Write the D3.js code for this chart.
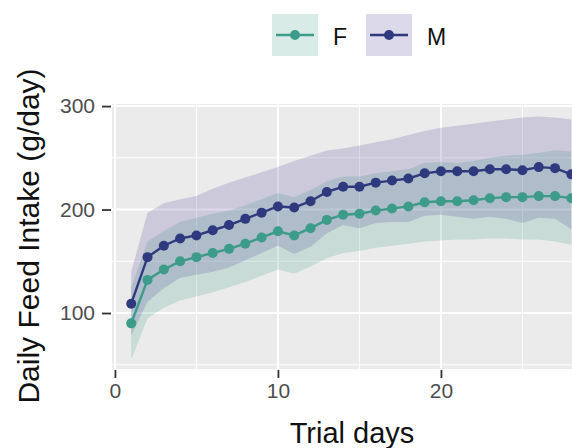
<!DOCTYPE html>
<html>
<head>
<meta charset="utf-8">
<script src="https://cdn.jsdelivr.net/npm/d3@7"></script>
<style>
  html, body { margin: 0; padding: 0; background: #fff; }
  svg { display: block; font-family: "Liberation Sans", Arial, sans-serif; }
</style>
</head>
<body>
<svg id="chart" width="572" height="448"></svg>
<script>
// Daily feed intake by sex over trial days (mean with ribbon)
const days = d3.range(1, 29);
const fMean = [90,132,142,150,154,158,162,167,173,179,175,182,190,195,196,199,201,203,207,208,208,209,211,212,212,213,213,211];
const fLow  = [55,95,105,112,116,120,125,130,136,142,138,145,153,158,160,163,165,167,169,170,171,171,172,172,171,171,169,166];
const fHigh = [125,169,179,188,192,196,199,204,210,216,212,219,227,232,232,235,237,239,245,246,245,247,250,252,253,255,257,256];
const mMean = [109,154,165,172,175,180,185,191,197,203,202,208,217,222,222,226,228,230,235,237,237,237,239,239,238,241,240,234];
const mLow  = [78,111,124,134,137,140,144,151,158,165,157,164,177,185,182,187,188,188,194,195,193,191,193,191,187,192,191,181];
const mHigh = [140,197,206,210,213,220,226,231,236,241,247,252,257,259,262,265,268,272,276,279,281,283,285,287,289,290,289,287];

const xMajor = [0, 10, 20];
const xMinor = [5, 15, 25];
const yMajor = [100, 200, 300];
const yMinor = [50, 150, 250];

const seriesNames = ["F", "M"];
const lineColor = { F: "#3d9b89", M: "#2f3a7e" };
const fillColor = { F: "#3d9b89", M: "#4c3f96" };

const series = [
  { key: "F", mean: fMean, low: fLow, high: fHigh },
  { key: "M", mean: mMean, low: mLow, high: mHigh }
];

const panel = { left: 112, right: 572, top: 104, bottom: 369 };

const x = d3.scaleLinear().domain([-0.18, 28.04]).range([panel.left, panel.right]);
const y = d3.scaleLinear().domain([45.9, 302]).range([panel.bottom, panel.top]);

const svg = d3.select("#chart");

// panel background
svg.append("rect")
  .attr("x", panel.left).attr("y", panel.top)
  .attr("width", panel.right - panel.left).attr("height", panel.bottom - panel.top)
  .attr("fill", "#ebebeb");

const grid = svg.append("g");
grid.selectAll(".ymin").data(yMinor).join("line")
  .attr("x1", panel.left).attr("x2", panel.right)
  .attr("y1", d => y(d)).attr("y2", d => y(d))
  .attr("stroke", "#fff").attr("stroke-width", 1);
grid.selectAll(".xmin").data(xMinor).join("line")
  .attr("y1", panel.top).attr("y2", panel.bottom)
  .attr("x1", d => x(d)).attr("x2", d => x(d))
  .attr("stroke", "#fff").attr("stroke-width", 1);
grid.selectAll(".ymaj").data(yMajor).join("line")
  .attr("x1", panel.left).attr("x2", panel.right)
  .attr("y1", d => y(d)).attr("y2", d => y(d))
  .attr("stroke", "#fff").attr("stroke-width", 2);
grid.selectAll(".xmaj").data(xMajor).join("line")
  .attr("y1", panel.top).attr("y2", panel.bottom)
  .attr("x1", d => x(d)).attr("x2", d => x(d))
  .attr("stroke", "#fff").attr("stroke-width", 2);

// ribbons
const area = s => d3.area()
  .x((d, i) => x(days[i]))
  .y0((d, i) => y(s.low[i]))
  .y1((d, i) => y(s.high[i]))(s.mean);

svg.append("g").selectAll("path").data(series).join("path")
  .attr("d", area)
  .attr("fill", d => fillColor[d.key])
  .attr("fill-opacity", 0.2);

// mean lines and points
const line = d3.line().x((d, i) => x(days[i])).y(d => y(d));
const sg = svg.append("g").selectAll("g").data(series).join("g");
sg.append("path")
  .attr("d", d => line(d.mean))
  .attr("fill", "none")
  .attr("stroke", d => lineColor[d.key])
  .attr("stroke-width", 2.4);
sg.each(function (s) {
  d3.select(this).selectAll("circle").data(s.mean).join("circle")
    .attr("cx", (d, i) => x(days[i]))
    .attr("cy", d => y(d))
    .attr("r", 5)
    .attr("fill", lineColor[s.key]);
});

// axes
const yAxis = d3.axisLeft(y).tickValues(yMajor).tickSize(9).tickPadding(7);
const gy = svg.append("g").attr("transform", `translate(${panel.left - 1},0)`).call(yAxis);
const xAxis = d3.axisBottom(x).tickValues(xMajor).tickSize(8).tickPadding(5);
const gx = svg.append("g").attr("transform", `translate(0,${panel.bottom + 1})`).call(xAxis);
[gy, gx].forEach(g => {
  g.select(".domain").remove();
  g.selectAll(".tick line").attr("stroke", "#333").attr("stroke-width", 1.8);
  g.selectAll(".tick text").attr("fill", "#4d4d4d").style("font-size", "21px")
    .style("font-family", "'Liberation Sans', Arial, sans-serif");
});

// axis titles
svg.append("text")
  .attr("x", 352).attr("y", 443)
  .attr("text-anchor", "middle")
  .style("font-size", "29px").attr("fill", "#111")
  .text("Trial days");
svg.append("text")
  .attr("transform", "translate(39,236) rotate(-90)")
  .attr("text-anchor", "middle")
  .style("font-size", "30px").attr("fill", "#111")
  .text("Daily Feed Intake (g/day)");

// legend
const legendX = [272, 366];
const legend = svg.append("g").selectAll("g").data(seriesNames).join("g")
  .attr("transform", (d, i) => `translate(${legendX[i]},14)`);
legend.append("rect")
  .attr("width", 46).attr("height", 42)
  .attr("fill", d => fillColor[d]).attr("fill-opacity", 0.2);
legend.append("line")
  .attr("x1", 4).attr("x2", 42).attr("y1", 21).attr("y2", 21)
  .attr("stroke", d => lineColor[d]).attr("stroke-width", 2.4);
legend.append("circle")
  .attr("cx", 23).attr("cy", 21).attr("r", 5)
  .attr("fill", d => lineColor[d]);
legend.append("text")
  .attr("x", 61).attr("y", 31)
  .style("font-size", "23px").attr("fill", "#111")
  .text(d => d);
</script>
</body>
</html>
